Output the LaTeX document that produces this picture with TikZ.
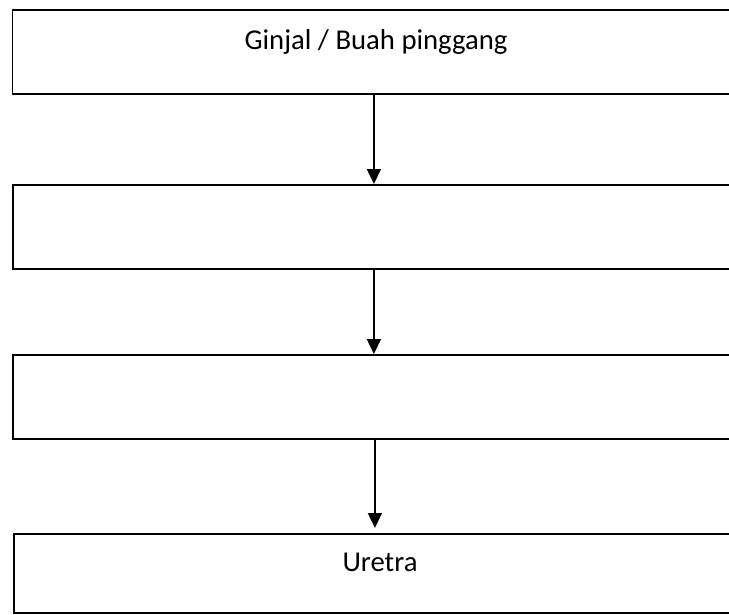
\documentclass[tikz,border=0pt]{standalone}
\usepackage{fontspec}
\setmainfont{Carlito}
\usetikzlibrary{positioning,arrows.meta}
\tikzset{%
	stage/.style={%
		draw,
		line width=1.8pt,
		minimum width=728pt,
		minimum height=84pt,
		anchor=north west,
		inner sep=0pt
	},
	stagetext/.style={%
		anchor=base,
		inner sep=0pt,
		font=\fontsize{28.7}{34}\selectfont
	},
	flow/.style={%
		line width=1.6pt,
		-{Triangle[length=15pt,width=14pt]}
	}
}
\begin{document}
\begin{tikzpicture}[x=1pt, y=-1pt]
        \clip (0,0) rectangle (729,614);
        \fill[white] (0,0) rectangle (729,614);
        \node [stage] (ginjal) at (11.5,9) {};
        \node [stage] (b2) at (12,184) {};
        \node [stage] (b3) at (12,354) {};
        \node [stage, minimum height=79pt] (uretra) at (13,533) {};
        \node [stagetext] (ginjaltext) at (376,49) {Ginjal / Buah pinggang};
        \node [stagetext] (uretratext) at (380,571) {Uretra};
        \draw [flow] ([xshift=-3pt]b2.north |- ginjal.south) -- ([xshift=-3pt]b2.north);
        \draw [flow] ([xshift=-3pt]b2.south) -- ([xshift=-3pt]b3.north);
        \draw [flow, shorten >=5pt] ([xshift=-2pt]b3.south) -- ([xshift=-2pt]b3.south |- uretra.north);
    \end{tikzpicture}
\end{document}
